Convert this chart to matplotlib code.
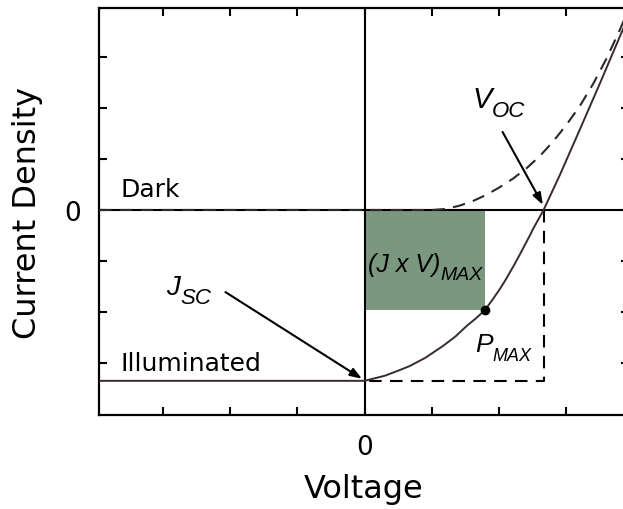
import matplotlib.pyplot as plt

plt.rcParams['font.family'] = ['DejaVu Sans']
ITALIC = ['Liberation Sans', 'DejaVu Sans']

# illuminated J-V curve (solid)
v_light = [-3.95, 0.0, 0.12, 0.3, 0.5, 0.67, 0.9, 1.16, 1.35, 1.52, 1.65, 1.79, 1.9, 2.01, 2.1,
           2.23, 2.3, 2.46, 2.5, 2.66, 2.9, 3.2, 3.5, 3.82, 3.97]
j_light = [-3.35, -3.35, -3.31, -3.25, -3.15, -3.06, -2.90, -2.67, -2.48, -2.27, -2.13, -1.96, -1.76,
           -1.55, -1.36, -1.06, -0.89, -0.49, -0.38, 0.0, 0.68, 1.58, 2.49, 3.48, 3.93]

# dark J-V curve (dashed)
v_dark = [-3.95, 1.0, 1.2, 1.4, 1.6, 1.8, 2.0, 2.2, 2.4, 2.6, 2.8, 3.0, 3.2, 3.4, 3.6, 3.8, 3.95]
j_dark = [0.0, 0.0, 0.02, 0.08, 0.17, 0.29, 0.44, 0.61, 0.81, 1.05, 1.34, 1.67, 2.04, 2.48, 2.98, 3.55, 4.02]

v_oc = 2.66
j_sc = -3.35
v_mp = 1.79
j_mp = -1.96

ticks = [-3, -2, -1, 0, 1, 2, 3]

fig = plt.figure(figsize=(6.23, 5.10), dpi=100)
ax = fig.add_axes([99 / 623, 1 - 416 / 510, (629 - 99) / 623, (416 - 9) / 510])
ax.set_xlim(-3.95, 3.93)
ax.set_ylim(-4.02, 3.96)

# max power rectangle
ax.fill_between([0, v_mp], [j_mp, j_mp], [0, 0], color='#7b977f', lw=0, zorder=1)

ax.axhline(0, color='black', lw=1.5, zorder=2)
ax.axvline(0, color='black', lw=1.5, zorder=2)

ax.plot(v_dark, j_dark, color='#2a2a2a', lw=1.5, ls=(0, (6, 4)), zorder=3)
ax.plot([v_oc, v_oc, 0], [0, j_sc, j_sc], color='black', lw=1.5, ls=(0, (6, 4)), zorder=3)
ax.plot(v_light, j_light, color='#3a2a2c', lw=1.4, zorder=4)
ax.plot([v_mp], [j_mp], 'o', color='black', ms=6, zorder=5)

for sp in ax.spines.values():
    sp.set_linewidth(1.6)

ax.set_xticks(ticks)
ax.set_yticks(ticks)
ax.set_xticklabels(['0' if t == 0 else '' for t in ticks], fontsize=19)
ax.set_yticklabels(['0' if t == 0 else '' for t in ticks], fontsize=19)
ax.tick_params(direction='in', length=6, width=1.5, top=True, right=True)
ax.tick_params(axis='x', pad=14)
ax.tick_params(axis='y', pad=13)
ax.set_xlabel('Voltage', fontsize=23, labelpad=9)
ax.set_ylabel('Current Density', fontsize=23, labelpad=15)

ax.text(-3.63, 0.27, 'Dark', fontsize=18, va='baseline')
ax.text(-3.63, -3.14, 'Illuminated', fontsize=18, va='baseline')


def label(x, y, main, sub, size, subsize, ha='right', drop=-6):
    t = ax.text(x, y, main, fontsize=size, style='italic', family=ITALIC, ha=ha, va='baseline')
    ax.annotate(sub, xy=(1, 0), xycoords=t, xytext=(0, drop), textcoords='offset points',
                fontsize=subsize, style='italic', family=ITALIC, ha='left', va='bottom')


label(1.89, 2.02, 'V', 'OC', 21, 16)
label(-2.74, -1.65, 'J', 'SC', 20, 16)
label(1.90, -2.76, 'P', 'MAX', 19, 13)
label(0.05, -1.20, '(J x V)', 'MAX', 18, 14, ha='left', drop=-5)

arrow = dict(arrowstyle='-|>,head_length=0.7,head_width=0.25', color='black', lw=1.5,
             shrinkA=0, shrinkB=0)
ax.annotate('', xy=(v_oc - 0.01, 0.1), xytext=(2.05, 1.53), arrowprops=arrow)
ax.annotate('', xy=(-0.04, j_sc + 0.04), xytext=(-2.07, -1.61), arrowprops=arrow)

fig.savefig('out.png', dpi=100)
